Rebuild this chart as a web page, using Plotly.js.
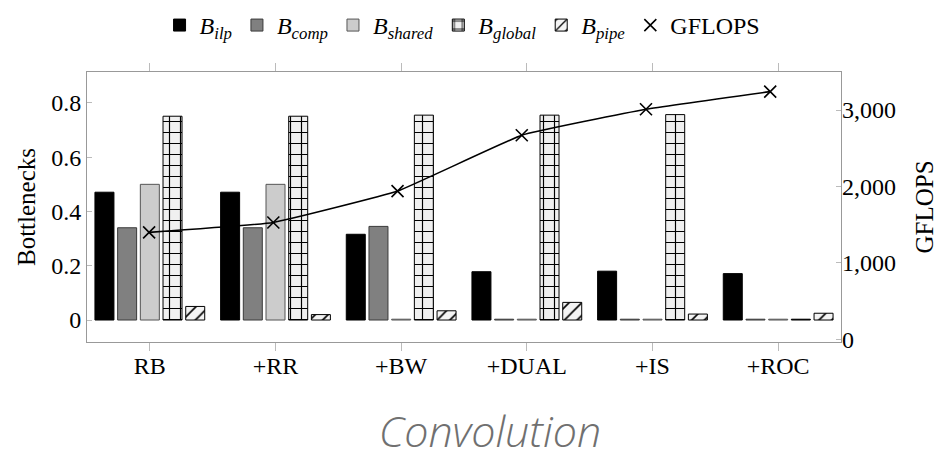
<!DOCTYPE html>
<html>
<head>
<meta charset="utf-8">
<script src="https://cdn.plot.ly/plotly-3.0.1.min.js"></script>
<style>html,body{margin:0;padding:0;background:#fff;}#chart{width:944px;height:463px;}</style>
</head>
<body>
<div id="chart"></div>
<script>
// ---- data ----
const categories = ['RB', '+RR', '+BW', '+DUAL', '+IS', '+ROC'];
const bIlp    = [0.471, 0.471, 0.316, 0.178, 0.180, 0.171];
const bComp   = [0.340, 0.340, 0.345, 0.003, 0.003, 0.003];
const bShared = [0.500, 0.500, 0.003, 0.003, 0.003, 0.003];
const bGlobal = [0.751, 0.751, 0.755, 0.755, 0.757, 0.003];
const bPipe   = [0.050, 0.020, 0.034, 0.065, 0.022, 0.025];
const gflops  = [1400, 1530, 1940, 2670, 3010, 3240];
const seriesNames = ['<i>B</i><sub><i>ilp</i></sub>', '<i>B</i><sub><i>comp</i></sub>',
  '<i>B</i><sub><i>shared</i></sub>', '<i>B</i><sub><i>global</i></sub>', '<i>B</i><sub><i>pipe</i></sub>', 'GFLOPS'];
const leftTicks = [0, 0.2, 0.4, 0.6, 0.8];
const rightTicks = [0, 1000, 2000, 3000];

const serif = 'Liberation Serif, Times New Roman, serif';

function bar(name, y, fill, line, pattern) {
  const t = {type: 'bar', name: name, x: categories, y: y, xaxis: 'x', yaxis: 'y',
    marker: {color: fill, line: {color: line, width: 1}}, hoverinfo: 'skip'};
  if (pattern) t.marker.pattern = pattern;
  return t;
}

const traces = [
  bar(seriesNames[0], bIlp, '#000000', '#000000'),
  bar(seriesNames[1], bComp, '#808080', '#3a3a3a'),
  bar(seriesNames[2], bShared, '#cccccc', '#555555'),
  bar(seriesNames[3], bGlobal, '#f0f0f0', '#000000',
      {shape: '+', bgcolor: '#f0f0f0', fgcolor: '#000000', size: 11, solidity: 0.2, fillmode: 'replace'}),
  bar(seriesNames[4], bPipe, '#f4f4f4', '#000000',
      {shape: '/', bgcolor: '#f4f4f4', fgcolor: '#000000', size: 9, solidity: 0.18, fillmode: 'replace'}),
  {type: 'scatter', mode: 'lines+markers', x: categories, y: gflops, xaxis: 'x2', yaxis: 'y2',
   line: {color: '#000000', width: 1.6, shape: 'spline', smoothing: 0.3},
   marker: {symbol: 'x-thin', size: 12, line: {color: '#000000', width: 1.6}, color: '#000000'},
   showlegend: false, hoverinfo: 'skip'},
  {type: 'scatter', mode: 'markers', name: seriesNames[5], x: [null], y: [null], xaxis: 'x2', yaxis: 'y2',
   marker: {symbol: 'x-thin', size: 12, line: {color: '#000000', width: 1.6}, color: '#000000'},
   hoverinfo: 'skip'}
];

const layout = {
  width: 944, height: 463,
  margin: {l: 87, r: 103, t: 72, b: 121},
  paper_bgcolor: '#ffffff', plot_bgcolor: '#ffffff',
  barmode: 'group', bargap: 0.097, bargroupgap: 0.163,
  showlegend: true,
  legend: {orientation: 'h', x: 0.49, xref: 'container', xanchor: 'center',
    y: 0.945, yref: 'container', yanchor: 'middle',
    font: {family: serif, size: 24, color: '#000'}, itemwidth: 30, traceorder: 'normal',
    bgcolor: 'rgba(0,0,0,0)', tracegroupgap: 0},
  title: {text: 'Convolution', x: 0.519, xref: 'container', xanchor: 'center',
    y: 0.035, yref: 'container', yanchor: 'bottom',
    font: {family: 'Open Sans, sans-serif', size: 43, color: '#707070', weight: 300, style: 'italic'}},
  xaxis: {type: 'category', range: [-0.5, 5.5], showgrid: false, zeroline: false,
    showline: true, linecolor: '#999999', linewidth: 1, mirror: 'ticks',
    ticks: 'outside', ticklen: 8, tickcolor: '#bbbbbb', tickwidth: 1, ticklabelstandoff: -6,
    tickfont: {family: serif, size: 24, color: '#000'}},
  xaxis2: {type: 'category', overlaying: 'x', range: [-0.5, 5.57], visible: false, anchor: 'y'},
  yaxis: {range: [-0.081, 0.914], tickvals: leftTicks, ticktext: leftTicks.map(v => v === 0 ? '0' : v.toFixed(1)),
    showgrid: false, zeroline: false, showline: true, linecolor: '#999999', linewidth: 1, mirror: true,
    ticks: 'inside', ticklen: 5, tickcolor: '#bbbbbb', tickwidth: 1,
    tickfont: {family: serif, size: 24, color: '#000'},
    title: {text: 'Bottlenecks', font: {family: serif, size: 25, color: '#000'}, standoff: 8}},
  yaxis2: {overlaying: 'y', side: 'right', anchor: 'x', range: [-33, 3497], tickvals: rightTicks,
    tickformat: ',', showgrid: false, zeroline: false, showline: false,
    ticks: 'inside', ticklen: 5, tickcolor: '#bbbbbb', tickwidth: 1,
    tickfont: {family: serif, size: 24, color: '#000'},
    title: {text: 'GFLOPS', font: {family: serif, size: 25, color: '#000'}, standoff: 20}}
};

Plotly.newPlot('chart', traces, layout, {staticPlot: true, displayModeBar: false});
</script>
</body>
</html>
